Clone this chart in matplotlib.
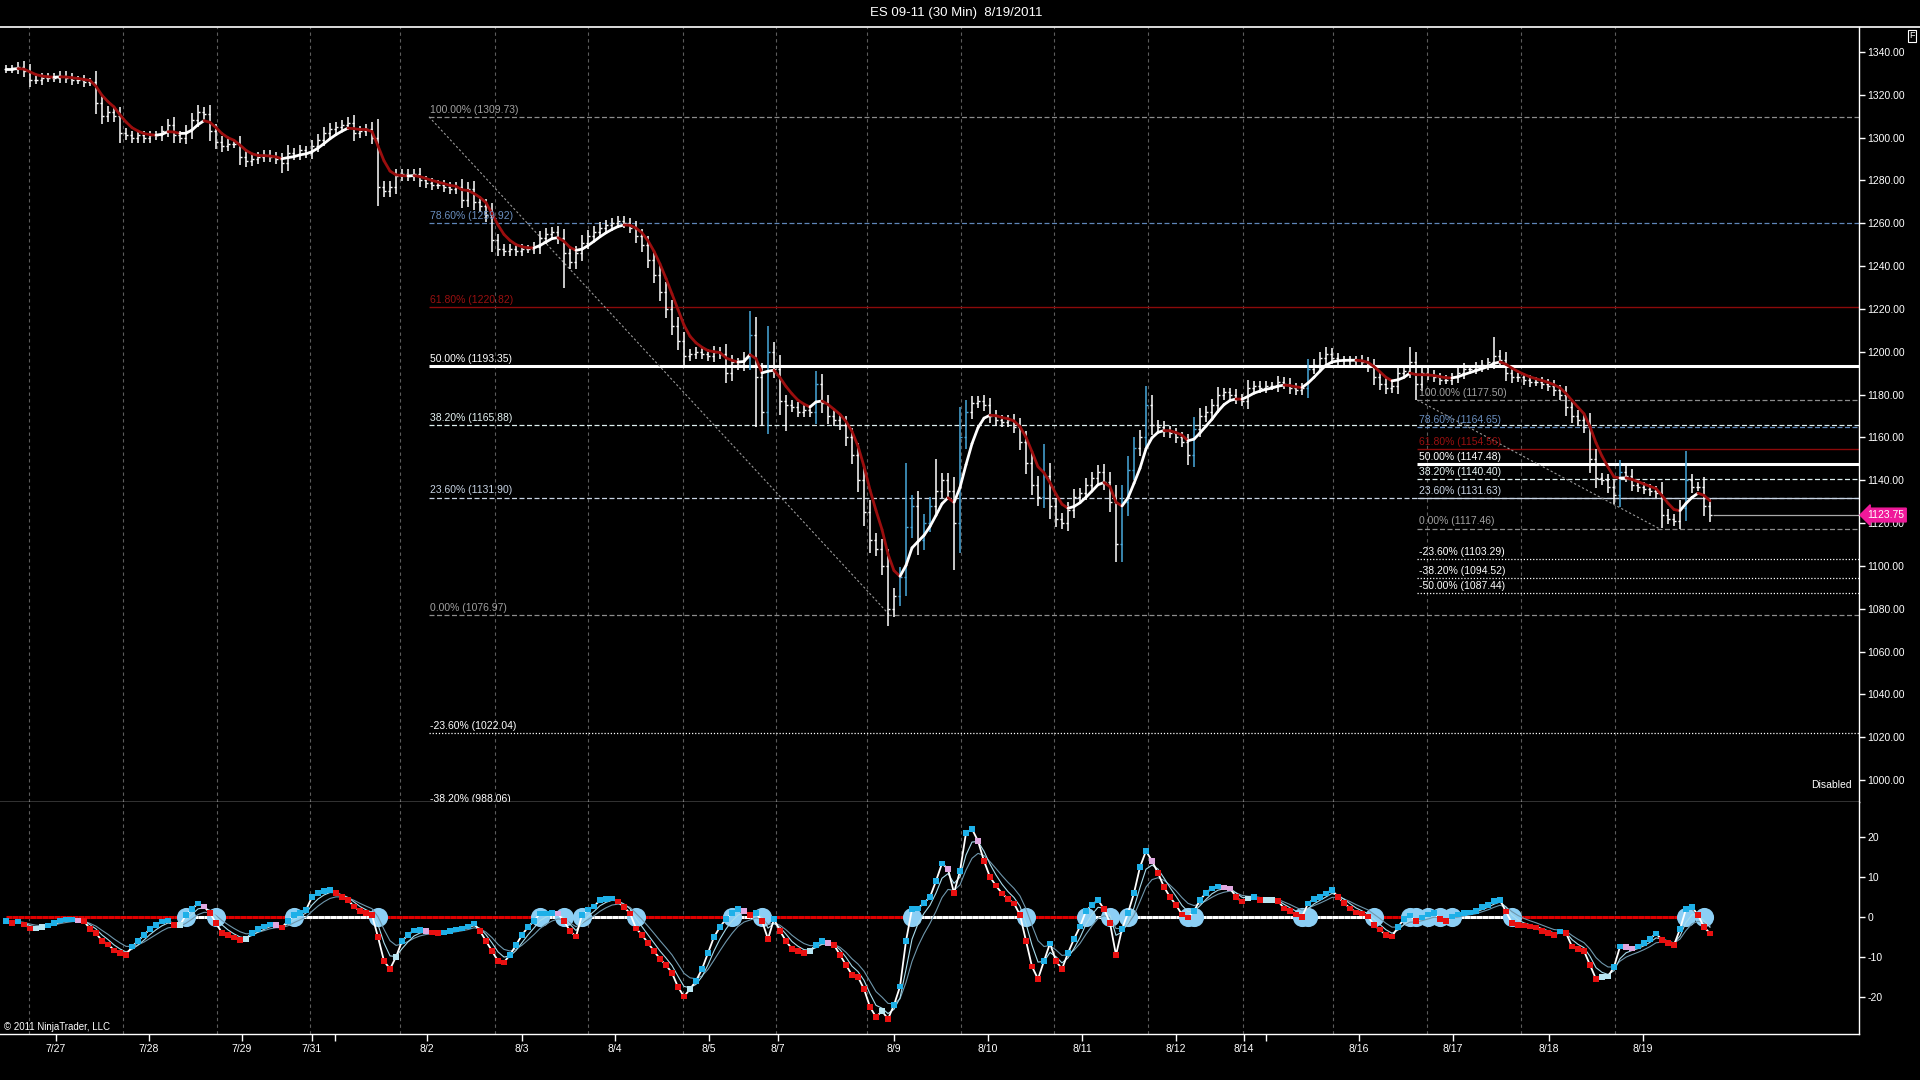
import numpy as np
import matplotlib
matplotlib.use("Agg")
import matplotlib.pyplot as plt
from matplotlib.collections import LineCollection
from matplotlib.lines import Line2D
from matplotlib.transforms import offset_copy

plt.rcParams['font.family'] = ['Liberation Sans', 'DejaVu Sans']

# ---------------- data ----------------
TITLE = "ES 09-11 (30 Min)  8/19/2011"

# closes, one bar per 90 minutes
close = [
    1332, 1332, 1333, 1331, 1327, 1327, 1328, 1328, 1328, 1329,
    1328, 1327, 1327, 1326, 1326, 1316, 1310, 1312, 1310, 1302,
    1301, 1300, 1301, 1300, 1301, 1301, 1303, 1306, 1301, 1300,
    1303, 1308, 1312, 1311, 1303, 1298, 1296, 1297, 1297, 1291,
    1289, 1290, 1291, 1292, 1291, 1290, 1288, 1293, 1292, 1294,
    1293, 1296, 1299, 1302, 1304, 1305, 1306, 1307, 1302, 1303,
    1304, 1300, 1277, 1275, 1277, 1282, 1283, 1282, 1283, 1280,
    1279, 1278, 1278, 1277, 1276, 1277, 1271, 1276, 1270, 1268,
    1264, 1252, 1248, 1247, 1248, 1247, 1248, 1248, 1249, 1253,
    1255, 1256, 1253, 1246, 1242, 1246, 1251, 1254, 1256, 1258,
    1259, 1260, 1261, 1260, 1258, 1254, 1250, 1243, 1236, 1228,
    1220, 1212, 1205, 1198, 1199, 1200, 1199, 1198, 1200, 1199,
    1190, 1195, 1194, 1197, 1208, 1188, 1172, 1200, 1192, 1177,
    1175, 1174, 1172, 1173, 1172, 1185, 1176, 1170, 1168, 1166,
    1160, 1152, 1140, 1125, 1112, 1108, 1100, 1080, 1086, 1095,
    1118, 1128, 1112, 1120, 1128, 1135, 1140, 1135, 1120, 1160,
    1172, 1176, 1177, 1175, 1170, 1168, 1167, 1168, 1165, 1158,
    1148, 1138, 1132, 1142, 1128, 1122, 1120, 1126, 1132, 1134,
    1138, 1141, 1144, 1139, 1130, 1110, 1130, 1145, 1155, 1160,
    1175, 1166, 1165, 1163, 1162, 1160, 1158, 1152, 1164, 1170,
    1172, 1175, 1180, 1181, 1180, 1178, 1177, 1183, 1184, 1183,
    1184, 1184, 1186, 1185, 1183, 1182, 1183, 1192, 1194, 1197,
    1199, 1197, 1196, 1196, 1196, 1196, 1195, 1193, 1188, 1185,
    1183, 1184, 1190, 1191, 1195, 1185, 1190, 1189, 1188, 1187,
    1187, 1188, 1190, 1192, 1192, 1193, 1194, 1195, 1198, 1196,
    1190, 1188, 1188, 1187, 1186, 1186, 1185, 1184, 1182, 1180,
    1174, 1170, 1168, 1165, 1150, 1141, 1140, 1137, 1133, 1144,
    1142, 1138, 1137, 1136, 1135, 1134, 1124, 1122, 1121, 1127,
    1140, 1137, 1137, 1128, 1123.75,
]

# notable extremes of individual bars
spike_high = {2: 1335, 57: 1309.75, 102: 1262, 124: 1219, 127: 1212, 150: 1148,
              155: 1150, 173: 1157, 190: 1184, 220: 1202, 234: 1202, 248: 1207,
              280: 1153.5}
spike_low = {46: 1283.5, 62: 1272, 93: 1230, 125: 1165, 130: 1163, 147: 1077,
             158: 1098, 185: 1103, 197: 1147, 235: 1177.5, 268: 1129, 276: 1117.5}

# oscillator values (lower panel), same bars
osc = [
    -1.0, -1.5, -1.2, -1.8, -2.8, -2.8, -2.5, -2.2, -1.5, -0.8,
    -0.7, -0.6, -0.8, -1.0, -3.0, -4.0, -6.0, -6.8, -8.3, -9.0,
    -9.5, -7.4, -6.0, -4.5, -3.0, -2.0, -1.2, -0.8, -2.0, -2.0,
    0.5, 2.0, 3.4, 2.6, 1.0, -1.5, -4.0, -4.5, -5.2, -5.75,
    -5.5, -4.0, -3.0, -2.4, -1.8, -2.0, -2.6, -1.0, 0.5, 1.0,
    1.75, 5.0, 6.0, 6.5, 6.75, 6.0, 5.0, 4.25, 2.6, 1.5,
    1.0, 0.5, -5.0, -11.0, -13.0, -10.0, -6.0, -4.5, -3.3, -3.25,
    -3.5, -3.8, -4.0, -3.8, -3.5, -3.2, -2.8, -2.4, -1.6, -3.5,
    -6.0, -8.5, -11.0, -11.3, -9.5, -7.0, -4.5, -2.5, -1.0, 0.9,
    0.9, 1.0, 0.8, -1.0, -3.5, -4.9, 0.5, 1.8, 2.6, 4.25,
    4.5, 4.7, 3.8, 2.5, 0.9, -2.8, -4.5, -6.5, -8.5, -10.5,
    -12.0, -14.0, -17.5, -19.9, -18.0, -16.0, -13.0, -9.0, -5.0, -2.5,
    -0.5, 1.0, 2.0, 1.5, 0.5, 1.0, -1.0, -5.5, -0.5, -3.5,
    -6.0, -8.0, -8.5, -9.0, -8.5, -7.0, -6.0, -6.5, -7.0, -9.5,
    -12.0, -14.5, -15.0, -18.0, -22.5, -25.0, -23.5, -25.5, -22.0, -17.4,
    -6.0, 2.0, 2.2, 3.5, 5.0, 9.0, 13.4, 12.0, 6.0, 11.5,
    21.0, 22.0, 19.0, 14.0, 10.0, 7.8, 5.9, 4.5, 3.4, 0.5,
    -6.0, -12.4, -15.5, -11.0, -6.6, -11.0, -13.0, -9.0, -5.5, -2.4,
    1.5, 3.0, 4.25, 2.0, -1.5, -9.5, -3.0, 1.0, 6.0, 12.5,
    16.5, 14.0, 11.0, 7.5, 5.0, 3.0, 0.6, -0.2, 1.5, 4.25,
    6.0, 7.2, 7.6, 7.4, 7.2, 5.0, 3.8, 4.6, 5.0, 4.25,
    4.25, 4.25, 4.0, 2.2, 1.5, 0.6, 0.0, 3.4, 4.5, 5.0,
    5.9, 6.75, 5.0, 3.5, 2.2, 1.2, 0.8, 0.1, -2.0, -3.2,
    -4.5, -4.9, -2.5, -0.5, 0.3, -1.0, -0.2, 0.6, 1.0, -0.5,
    -1.0, 0.2, 0.6, 1.0, 1.2, 1.5, 2.5, 3.0, 4.0, 4.25,
    1.3, -1.5, -2.0, -2.2, -2.4, -2.7, -3.5, -4.0, -4.5, -3.7,
    -4.0, -7.4, -8.0, -8.5, -12.0, -15.5, -15.0, -14.9, -12.5, -7.4,
    -7.5, -7.8, -7.4, -6.5, -5.5, -4.1, -5.75, -6.5, -7.0, -3.0,
    2.0, 2.5, 0.5, -2.5, -4.1,
]

date_labels = ["7/27", "7/28", "7/29", "7/31", "8/2", "8/3", "8/4", "8/5", "8/7",
               "8/9", "8/10", "8/11", "8/12", "8/14", "8/16", "8/17", "8/18", "8/19"]
date_ticks = [9.33, 24.83, 40.33, 52.0, 71.17, 87.0, 102.5, 118.17, 129.67,
              149.0, 164.67, 180.33, 196.0, 207.33, 226.5, 242.17, 258.17, 273.83]
minor_date_ticks = [55.8, 211.0]
session_grid = [4.83, 20.5, 36.17, 51.67, 66.67, 82.5, 98.0, 113.83, 129.33, 144.5,
                160.17, 175.67, 191.33, 207.17, 222.17, 237.83, 253.5, 269.17]

price_ticks = list(range(1000, 1341, 20))
osc_ticks = [-20, -10, 0, 10, 20]

fib1 = dict(x0=71.5, x1=148.3, high=1309.73, low=1076.97,
            ratios=[1.0, 0.786, 0.618, 0.5, 0.382, 0.236, 0.0, -0.236, -0.382])
fib2 = dict(x0=236.2, x1=276.5, high=1177.50, low=1117.46,
            ratios=[1.0, 0.786, 0.618, 0.5, 0.382, 0.236, 0.0, -0.236, -0.382, -0.5])
last_price = 1123.75

# ---------------- styles ----------------
BG = 'black'
DASH = (0, (4, 2))
DOT = (0, (1, 1.5))
fib_style = {
    1.0:   ('#8C8C8C', DASH, 0.9, '#A0A0A0'),
    0.786: ('#5F86B8', DASH, 0.9, '#6A8FC0'),
    0.618: ('#8B0A0A', '-', 1.0, '#9A1010'),
    0.5:   ('#FFFFFF', '-', 2.2, '#FFFFFF'),
    0.382: ('#DDEFEF', DASH, 0.9, '#E6F4F4'),
    0.236: ('#C8D4E4', DASH, 0.9, '#C8D4E4'),
    0.0:   ('#8C8C8C', DASH, 0.9, '#A0A0A0'),
    -0.236: ('#FFFFFF', DOT, 0.9, '#FFFFFF'),
    -0.382: ('#FFFFFF', DOT, 0.9, '#FFFFFF'),
    -0.5:  ('#FFFFFF', DOT, 0.9, '#FFFFFF'),
}

W, H = 1920, 1080
fig = plt.figure(figsize=(19.2, 10.8), dpi=100, facecolor=BG)
axp = fig.add_axes([0, 1 - 802 / H, 1859 / W, (802 - 27) / H])
axo = fig.add_axes([0, 1 - 1034 / H, 1859 / W, (1034 - 802) / H], sharex=axp)

XMAX = 1859 / 6.0
for ax in (axp, axo):
    ax.set_facecolor(BG)
    ax.spines['left'].set_visible(False)
    ax.spines['top'].set_visible(False)
    ax.spines['right'].set_color('white')
    ax.spines['bottom'].set_color('white')
    ax.spines['right'].set_linewidth(1.0)
    ax.spines['bottom'].set_linewidth(1.0)
    for g in session_grid:
        ax.axvline(g, color='#5C5C5C', lw=0.8, ls=(0, (3, 3)), zorder=0)
axp.set_xlim(0, XMAX)
axp.set_ylim(989.74, 1351.66)
axo.set_ylim(-29.25, 28.75)

# ---------------- price panel ----------------
c = np.array(close, dtype=float)
n = len(c)
x = np.arange(n) + 1.0
o = np.concatenate([[c[0]], c[:-1]])
body = np.abs(c - o)
hi = np.maximum(o, c) + 2.0 + 0.3 * body
lo = np.minimum(o, c) - 2.0 - 0.3 * body
for k, v in spike_high.items():
    hi[k] = max(hi[k], v)
for k, v in spike_low.items():
    lo[k] = min(lo[k], v)
bar_col = np.where(c - o > 7, '#49A9DC', '#FFFFFF')
axp.vlines(x, lo, hi, colors=bar_col, lw=1.1, zorder=3)
axp.hlines(o, x - 0.4, x, colors=bar_col, lw=1.0, zorder=3)
axp.hlines(c, x, x + 0.4, colors=bar_col, lw=1.0, zorder=3)


def ema(a, span):
    al = 2.0 / (span + 1)
    out = np.empty_like(a)
    out[0] = a[0]
    for k in range(1, len(a)):
        out[k] = al * a[k] + (1 - al) * out[k - 1]
    return out


ma = ema(ema(c, 3), 3)
segs = [[(x[k], ma[k]), (x[k + 1], ma[k + 1])] for k in range(n - 1)]
seg_col = ['#FFFFFF' if ma[k + 1] >= ma[k] else '#9B0E0E' for k in range(n - 1)]
axp.add_collection(LineCollection(segs, colors=seg_col, linewidths=2.0, zorder=4,
                                  capstyle='round'))

# fibonacci retracements
lab_tr = offset_copy(axp.transData, fig=fig, x=1.0, y=1.5, units='points')
for fib in (fib1, fib2):
    rng = fib['high'] - fib['low']
    for r in fib['ratios']:
        lvl = fib['low'] + r * rng
        lc, ls, lw, tc = fib_style[r]
        if fib is fib2 and r == 0.236:
            ls = '-'
        axp.hlines(lvl, fib['x0'], XMAX, colors=lc, linestyles=ls, lw=lw, zorder=2)
        axp.text(fib['x0'], lvl, f"{r * 100:.2f}% ({lvl:.2f})", transform=lab_tr,
                 ha='left', va='bottom', color=tc, fontsize=7.5, clip_on=True,
                 zorder=5)
    axp.plot([fib['x0'], fib['x1']], [fib['high'], fib['low']], color='#9A9A9A',
             lw=0.8, ls=(0, (2, 2)), zorder=2)

# last price line and tag
axp.hlines(last_price, x[-1] + 0.5, XMAX, colors='#A8A8A8', lw=0.9, zorder=2)
axp.annotate(f"{last_price:.2f}", xy=(1.0, last_price),
             xycoords=('axes fraction', 'data'), xytext=(6, 0),
             textcoords='offset points', ha='left', va='center', color='white',
             fontsize=7.5, annotation_clip=False, zorder=10,
             bbox=dict(boxstyle='larrow,pad=0.18', fc='#F0199A', ec='#F0199A'))

axp.yaxis.tick_right()
axp.set_yticks(price_ticks)
axp.set_yticklabels([f"{v:.2f}" for v in price_ticks])
axp.tick_params(axis='y', colors='white', labelsize=7.5, length=4, width=1, pad=2)
axp.tick_params(axis='x', bottom=False, labelbottom=False)

# ---------------- oscillator panel ----------------
ov = np.array(osc, dtype=float)
sig1 = ema(ov, 3)
sig2 = ema(ov, 6)

zsegs = [[(x[k], 0), (x[k + 1], 0)] for k in range(n - 1)]
zcol = ['#FFFFFF' if ov[k + 1] > 0 else '#E00000' for k in range(n - 1)]
axo.add_collection(LineCollection(zsegs, colors=zcol, linewidths=2.2, zorder=2))

sgn = np.sign(ov)
cross = [k for k in range(1, n) if sgn[k] != sgn[k - 1]]
axo.scatter(x[cross], np.zeros(len(cross)), s=190, color='#8CCFF5', lw=0, zorder=3)

axo.plot(x, sig2, color='#6F97AC', lw=0.8, zorder=4)
axo.plot(x, sig1, color='#A8DCEC', lw=0.8, zorder=4)
axo.plot(x, ov, color='white', lw=1.3, zorder=5)

d = np.diff(ov, prepend=ov[0])
rising = d >= 0
above = ov >= sig1
sq_col = np.where(rising & above, '#1EB0E8',
          np.where(rising, '#B8E6F2',
          np.where(above, '#E0A8E0', '#E81010')))
axo.scatter(x, ov, s=14, marker='s', c=sq_col, lw=0, zorder=6)

axo.yaxis.tick_right()
axo.set_yticks(osc_ticks)
axo.set_yticklabels([str(v) for v in osc_ticks])
axo.tick_params(axis='y', colors='white', labelsize=7.5, length=4, width=1, pad=2)
axo.set_xticks(date_ticks)
axo.set_xticklabels(date_labels)
axo.set_xticks(minor_date_ticks, minor=True)
axo.tick_params(axis='x', which='both', colors='white', labelsize=7.5, length=5,
                width=1, pad=2)

# ---------------- frame texts ----------------
fig.add_artist(Line2D([0, 1], [1 - 27 / H] * 2, transform=fig.transFigure,
                      color='white', lw=1.2))
fig.text(0.498, 1 - 13 / H, TITLE, ha='center', va='center', color='white',
         fontsize=9.5)
fig.text(1852 / W, 1 - 785 / H, "Disabled", ha='right', va='center', color='white',
         fontsize=7.5)
fig.text(4 / W, 1 - 1027 / H, "\u00a9 2011 NinjaTrader, LLC", ha='left',
         va='center', color='white', fontsize=7)
fig.text(1912 / W, 1 - 36 / H, "F", ha='center', va='center', color='white',
         fontsize=6.5, bbox=dict(boxstyle='square,pad=0.15', fc='black',
                                 ec='white', lw=0.8))

fig.savefig('out.png', dpi=100, facecolor=BG)
